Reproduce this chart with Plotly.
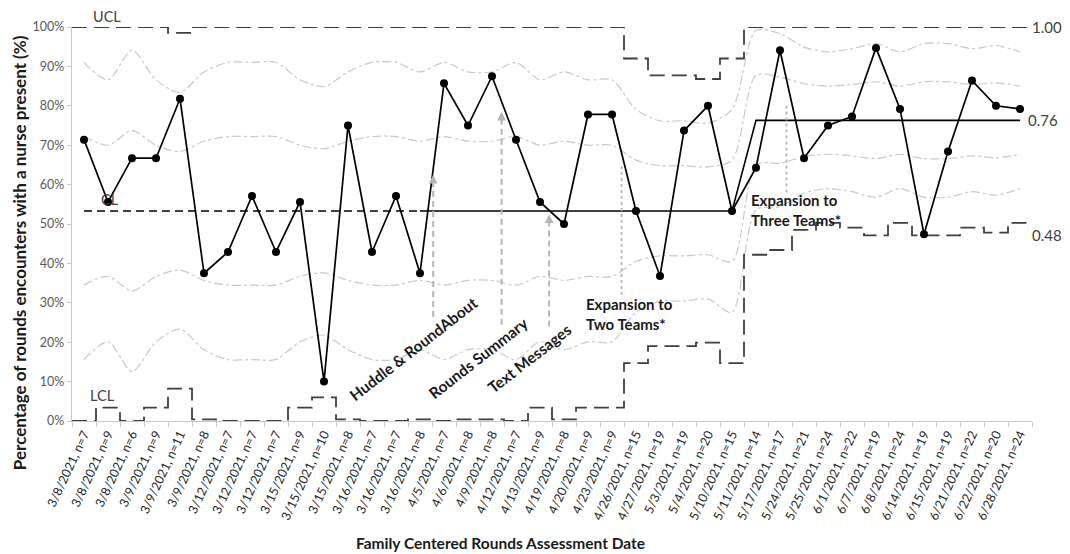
import plotly.graph_objects as go

labels = ["3/8/2021, n=7", "3/8/2021, n=9", "3/8/2021, n=6", "3/9/2021, n=9", "3/9/2021, n=11",
          "3/9/2021, n=8", "3/12/2021, n=7", "3/12/2021, n=7", "3/12/2021, n=7", "3/15/2021, n=9",
          "3/15/2021, n=10", "3/15/2021, n=8", "3/16/2021, n=7", "3/16/2021, n=7", "3/16/2021, n=8",
          "4/5/2021, n=7", "4/6/2021, n=8", "4/9/2021, n=8", "4/12/2021, n=7", "4/13/2021, n=9",
          "4/19/2021, n=8", "4/20/2021, n=9", "4/23/2021, n=9", "4/26/2021, n=15", "4/27/2021, n=19",
          "5/3/2021, n=19", "5/4/2021, n=20", "5/10/2021, n=15", "5/11/2021, n=14", "5/17/2021, n=17",
          "5/24/2021, n=21", "5/25/2021, n=24", "6/1/2021, n=22", "6/7/2021, n=19", "6/8/2021, n=24",
          "6/14/2021, n=19", "6/15/2021, n=19", "6/21/2021, n=22", "6/22/2021, n=20", "6/28/2021, n=24"]

pct = [0.714, 0.556, 0.667, 0.667, 0.818, 0.375, 0.429, 0.571, 0.429, 0.556,
       0.100, 0.750, 0.429, 0.571, 0.375, 0.857, 0.750, 0.875, 0.714, 0.556,
       0.500, 0.778, 0.778, 0.533, 0.368, 0.737, 0.800, 0.533, 0.643, 0.941,
       0.667, 0.750, 0.773, 0.947, 0.792, 0.474, 0.684, 0.864, 0.800, 0.792]

cl = [0.533, 0.533, 0.533, 0.533, 0.533, 0.533, 0.533, 0.533, 0.533, 0.533,
      0.533, 0.533, 0.533, 0.533, 0.533, 0.533, 0.533, 0.533, 0.533, 0.533,
      0.533, 0.533, 0.533, 0.533, 0.533, 0.533, 0.533, 0.533, 0.763, 0.763,
      0.763, 0.763, 0.763, 0.763, 0.763, 0.763, 0.763, 0.763, 0.763, 0.763]

ucl = [1.0, 1.0, 1.0, 1.0, 0.985, 1.0, 1.0, 1.0, 1.0, 1.0,
       1.0, 1.0, 1.0, 1.0, 1.0, 1.0, 1.0, 1.0, 1.0, 1.0,
       1.0, 1.0, 1.0, 0.920, 0.877, 0.877, 0.868, 0.920, 1.0, 1.0,
       1.0, 1.0, 1.0, 1.0, 1.0, 1.0, 1.0, 1.0, 1.0, 1.0]

lcl = [0.0, 0.034, 0.0, 0.034, 0.082, 0.004, 0.0, 0.0, 0.0, 0.034,
       0.060, 0.004, 0.0, 0.0, 0.004, 0.0, 0.004, 0.004, 0.0, 0.034,
       0.004, 0.034, 0.034, 0.147, 0.190, 0.190, 0.199, 0.147, 0.422, 0.434,
       0.485, 0.503, 0.491, 0.471, 0.503, 0.471, 0.471, 0.491, 0.478, 0.503]

plus1 = [0.722, 0.700, 0.737, 0.700, 0.684, 0.710, 0.722, 0.722, 0.722, 0.700,
         0.691, 0.710, 0.722, 0.722, 0.710, 0.722, 0.710, 0.710, 0.722, 0.700,
         0.710, 0.700, 0.700, 0.662, 0.648, 0.648, 0.645, 0.662, 0.877, 0.873,
         0.856, 0.850, 0.854, 0.861, 0.850, 0.861, 0.861, 0.854, 0.858, 0.850]
plus2 = [0.910, 0.866, 0.941, 0.866, 0.834, 0.886, 0.910, 0.910, 0.910, 0.866,
         0.849, 0.886, 0.910, 0.910, 0.886, 0.910, 0.886, 0.886, 0.910, 0.866,
         0.886, 0.866, 0.866, 0.791, 0.762, 0.762, 0.756, 0.791, 0.991, 0.983,
         0.949, 0.937, 0.945, 0.958, 0.937, 0.958, 0.958, 0.945, 0.953, 0.937]
minus1 = [0.345, 0.367, 0.330, 0.367, 0.383, 0.357, 0.345, 0.345, 0.345, 0.367,
          0.376, 0.357, 0.345, 0.345, 0.357, 0.345, 0.357, 0.357, 0.345, 0.367,
          0.357, 0.367, 0.367, 0.405, 0.419, 0.419, 0.422, 0.405, 0.650, 0.654,
          0.671, 0.677, 0.673, 0.666, 0.677, 0.666, 0.666, 0.673, 0.668, 0.677]
minus2 = [0.156, 0.201, 0.126, 0.201, 0.233, 0.181, 0.156, 0.156, 0.156, 0.201,
          0.218, 0.181, 0.156, 0.156, 0.181, 0.156, 0.181, 0.181, 0.156, 0.201,
          0.181, 0.201, 0.201, 0.276, 0.304, 0.304, 0.310, 0.276, 0.536, 0.544,
          0.578, 0.590, 0.582, 0.568, 0.590, 0.568, 0.568, 0.582, 0.573, 0.590]

# interventions: (label, x position in category units, bottom, top)
arrow_events = [("Huddle & RoundAbout", 14.55, 0.264, 0.625),
                ("Rounds Summary", 17.40, 0.244, 0.785),
                ("Text Messages", 19.38, 0.240, 0.525)]
expansion_events = [("Expansion to<br>Two Teams*", 22.40, 0.320, 0.650),
                    ("Expansion to<br>Three Teams*", 29.27, 0.580, 0.800)]

FONT = "Lato"
idx = list(range(len(labels)))


def steps(vals):
    xs, ys = [], []
    for i, v in enumerate(vals):
        xs += [i - 0.5, i + 0.5]
        ys += [v, v]
    return xs, ys


fig = go.Figure()

# sigma lines
for s in (plus2, plus1, minus1, minus2):
    fig.add_trace(go.Scatter(x=idx, y=s, mode="lines",
                             line=dict(color="#c9c9c9", width=1.2, dash="dashdot",
                                       shape="spline", smoothing=0.8),
                             hoverinfo="skip", showlegend=False, cliponaxis=False))

# UCL / LCL
for lim in (ucl, lcl):
    sx, sy = steps(lim)
    fig.add_trace(go.Scatter(x=sx, y=sy, mode="lines",
                             line=dict(color="#3f3f3f", width=1.8, dash="15px,7px"),
                             showlegend=False, cliponaxis=False))

# Center line: dashed through baseline, then solid
fig.add_trace(go.Scatter(x=idx[:15], y=cl[:15], mode="lines",
                         line=dict(color="#000000", width=1.6, dash="8px,5px"),
                         showlegend=False, cliponaxis=False))
fig.add_trace(go.Scatter(x=idx[14:], y=cl[14:], mode="lines",
                         line=dict(color="#000000", width=1.6),
                         showlegend=False, cliponaxis=False))

# intervention lines
shapes = []
annotations = []
for name, xpos, y0, y1 in arrow_events:
    shapes.append(dict(type="line", xref="x", yref="y", x0=xpos, x1=xpos, y0=y0, y1=y1 - 0.01,
                       line=dict(color="#b5b5b5", width=2, dash="6px,4px")))
    annotations.append(dict(x=xpos, y=y1, xref="x", yref="y", ax=xpos, ay=y1 - 0.03,
                            axref="x", ayref="y", showarrow=True, arrowhead=2,
                            arrowsize=1.1, arrowwidth=1.6, arrowcolor="#b5b5b5", text=""))
for name, xpos, y0, y1 in expansion_events:
    shapes.append(dict(type="line", xref="x", yref="y", x0=xpos, x1=xpos, y0=y0, y1=y1,
                       line=dict(color="#b5b5b5", width=1.8, dash="dot")))

# data series
fig.add_trace(go.Scatter(x=idx, y=pct, mode="lines+markers",
                         line=dict(color="#000000", width=1.7),
                         marker=dict(color="#000000", size=8),
                         showlegend=False, cliponaxis=False))

txt = dict(family=FONT, size=15.5, color="#1a1a1a")
bold = "<b>{}</b>"
# rotated intervention labels
annotations += [
    dict(x=13.71, y=0.183, xref="x", yref="y", text=bold.format("Huddle &amp; RoundAbout"),
         textangle=-38, showarrow=False, font=txt),
    dict(x=16.42, y=0.160, xref="x", yref="y", text=bold.format("Rounds Summary"),
         textangle=-38, showarrow=False, font=txt),
    dict(x=18.58, y=0.160, xref="x", yref="y", text=bold.format("Text Messages"),
         textangle=-38, showarrow=False, font=txt),
    dict(x=20.85, y=0.271, xref="x", yref="y", text=bold.format(expansion_events[0][0]),
         xanchor="left", yanchor="middle", align="left", showarrow=False,
         font=dict(family=FONT, size=15, color="#1a1a1a")),
    dict(x=27.72, y=0.536, xref="x", yref="y", text=bold.format(expansion_events[1][0]),
         xanchor="left", yanchor="middle", align="left", showarrow=False,
         font=dict(family=FONT, size=15, color="#1a1a1a")),
]

lab = dict(family=FONT, size=14.5, color="#404040")
end_font = dict(family=FONT, size=15, color="#404040")
annotations += [
    dict(x=0.0365, y=1.0254, xref="paper", yref="paper", text="UCL", showarrow=False,
         xanchor="center", yanchor="middle", font=lab),
    dict(x=0.75, y=0.066, xref="x", yref="y", text="LCL", showarrow=False, font=lab),
    dict(x=1.08, y=0.562, xref="x", yref="y", text="CL", showarrow=False, font=lab),
    dict(x=0.998, y=1.0, xref="paper", yref="paper", text="1.00", xanchor="left",
         yanchor="middle", showarrow=False, font=end_font),
    dict(x=0.994, y=0.763, xref="paper", yref="paper", text="0.76", xanchor="left",
         yanchor="middle", showarrow=False, font=end_font),
    dict(x=0.998, y=0.473, xref="paper", yref="paper", text="0.48", xanchor="left",
         yanchor="middle", showarrow=False, font=end_font),
    dict(x=-0.0552, y=0.426, xref="paper", yref="paper",
         text=bold.format("Percentage of rounds encounters with a nurse present (%)"),
         xanchor="center", yanchor="middle",
         textangle=-90, showarrow=False, font=dict(family=FONT, size=17, color="#1a1a1a")),
    dict(x=0.446, y=-0.31, xref="paper", yref="paper",
         text=bold.format("Family Centered Rounds Assessment Date"),
         xanchor="center", yanchor="middle",
         showarrow=False, font=dict(family=FONT, size=15.5, color="#1a1a1a")),
]

# the page adds an 8px body margin, so the figure is sized to fit the 1070x554 window
fig.update_layout(
    width=1062, height=546,
    margin=dict(l=64, r=38, t=19, b=133),
    paper_bgcolor="white", plot_bgcolor="white",
    font=dict(family=FONT),
    shapes=shapes, annotations=annotations,
    xaxis=dict(range=[-0.5, 39.5], tickmode="array", tickvals=idx, ticktext=labels,
               tickangle=-65, ticks="", showgrid=False, zeroline=False,
               showline=True, linecolor="#c8c8c8", linewidth=1.2,
               tickfont=dict(family=FONT, size=12.5, color="#262626"),
               minor=dict(tickmode="array", tickvals=[i - 0.5 for i in range(len(labels) + 1)],
                          ticks="outside", ticklen=5, tickcolor="#c8c8c8", showgrid=False)),
    yaxis=dict(range=[0, 1], tickmode="linear", tick0=0, dtick=0.1, tickformat=".0%",
               showgrid=False, zeroline=False, showline=True, linecolor="#c8c8c8", linewidth=1.2,
               ticks="outside", ticklen=4, tickcolor="#c8c8c8",
               tickfont=dict(family=FONT, size=12.5, color="#595959")),
)

fig.write_html("out.html")
